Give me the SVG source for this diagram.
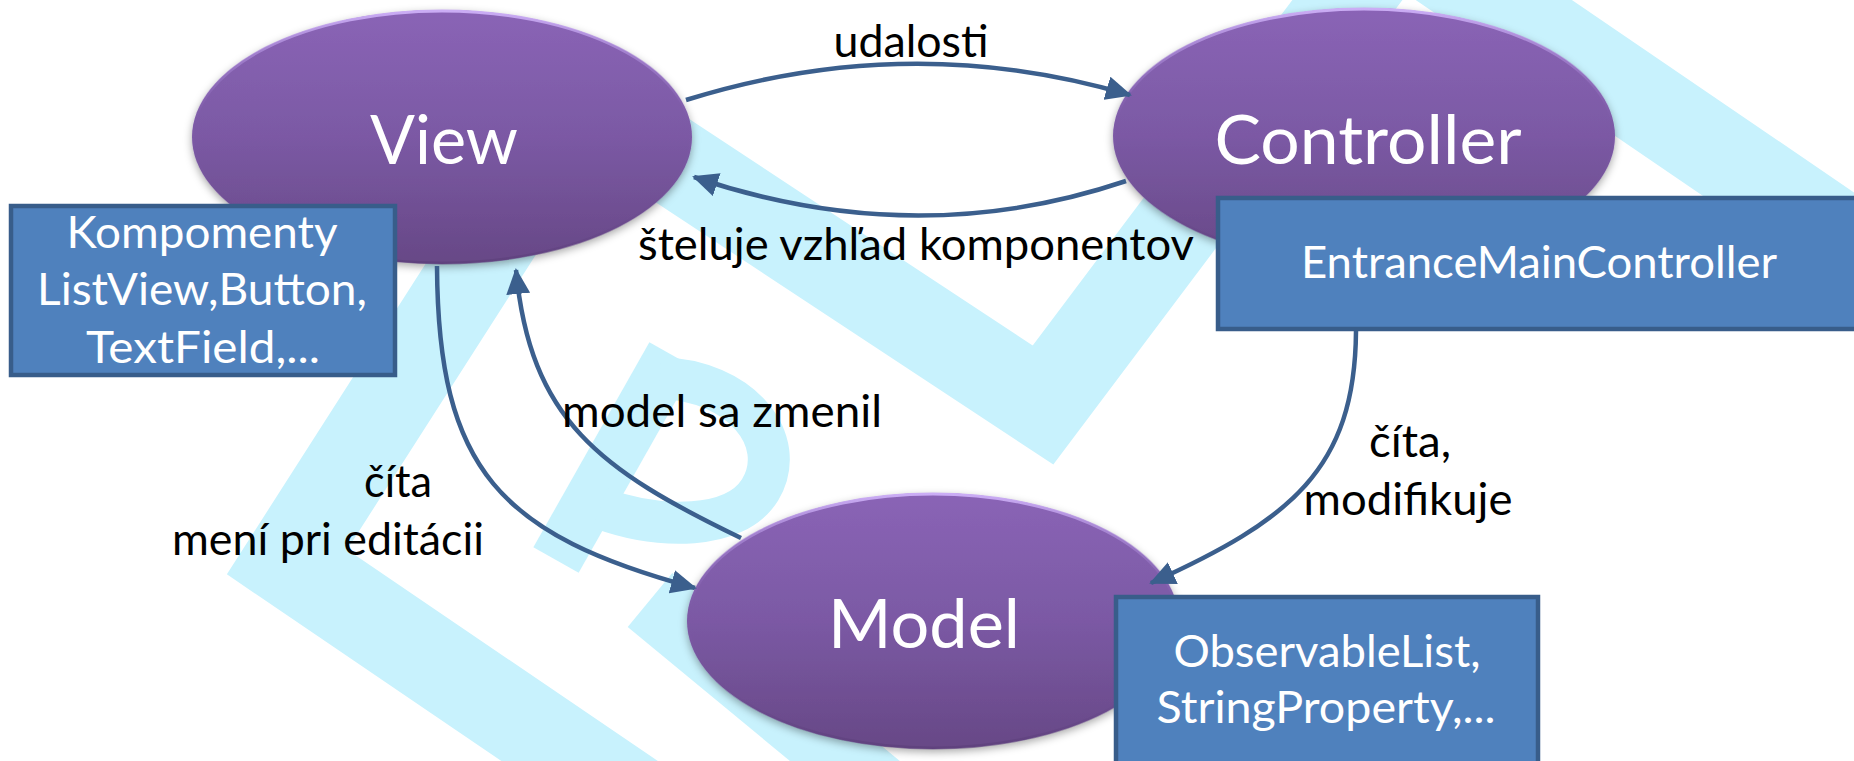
<svg xmlns="http://www.w3.org/2000/svg" width="1854" height="761" viewBox="0 0 1854 761">
  <defs>
    <linearGradient id="purple" x1="0" y1="0" x2="0" y2="1">
      <stop offset="0" stop-color="#8A64B6"/>
      <stop offset="0.5" stop-color="#7B59A4"/>
      <stop offset="1" stop-color="#674886"/>
    </linearGradient>
    <linearGradient id="rim" x1="0" y1="0" x2="0" y2="1">
      <stop offset="0" stop-color="#CBADF5" stop-opacity="1"/>
      <stop offset="0.25" stop-color="#A584D2" stop-opacity="0.5"/>
      <stop offset="0.45" stop-color="#8A64B6" stop-opacity="0"/>
      <stop offset="1" stop-color="#5A3D78" stop-opacity="0.6"/>
    </linearGradient>
    <filter id="shadow" x="-10%" y="-10%" width="120%" height="130%">
      <feDropShadow dx="0" dy="3" stdDeviation="4" flood-color="#000" flood-opacity="0.35"/>
    </filter>
    <marker id="arrow" viewBox="0 0 26 24" refX="24" refY="12" markerWidth="26" markerHeight="24" markerUnits="userSpaceOnUse" orient="auto">
      <path d="M0,0 L26,12 L0,24 z" fill="#3B5F8D"/>
    </marker>
    <style>
      .wm { fill: none; stroke: #C8F2FD; stroke-linejoin: miter; stroke-miterlimit: 10; }
      .ell { fill: url(#purple); filter: url(#shadow); }
      .rim { fill: none; stroke: url(#rim); stroke-width: 3; }
      .box { fill: #4F81BD; stroke: #385D8A; stroke-width: 4.5; }
      .big { font-family: Lato, "Open Sans", sans-serif; font-size: 67px; fill: #FFFFFF; text-anchor: middle; }
      .btxt { font-family: Lato, "Open Sans", sans-serif; font-size: 44px; fill: #FFFFFF; text-anchor: middle; }
      .lbl { font-family: Lato, "Open Sans", sans-serif; font-size: 44px; fill: #000000; text-anchor: middle; }
      .con { fill: none; stroke: #3B5F8D; stroke-width: 4.5; marker-end: url(#arrow); }
    </style>
  </defs>

  <rect x="0" y="0" width="1854" height="761" fill="#FFFFFF"/>

  <g id="watermark">
    <polyline class="wm" stroke-width="88" points="637,800 287,562 582,101 1043,405 1397,-66 1900,277"/>
    <line class="wm" stroke-width="52" x1="672" y1="355" x2="556" y2="560"/>
    <path class="wm" stroke-width="42" d="M660,378 C740,380 790,440 760,490 C735,530 660,530 600,508"/>
    <line class="wm" stroke-width="70" x1="650" y1="600" x2="880" y2="790"/>
  </g>

  <g id="node-view">
    <ellipse class="ell" cx="442" cy="137" rx="250" ry="127"/>
    <ellipse class="rim" cx="442" cy="137" rx="249" ry="126"/>
    <text class="big" x="444" y="164" textLength="148" lengthAdjust="spacingAndGlyphs">View</text>
  </g>

  <g id="node-controller">
    <ellipse class="ell" cx="1364" cy="136" rx="251" ry="128"/>
    <ellipse class="rim" cx="1364" cy="136" rx="250" ry="127"/>
    <text class="big" x="1368" y="164" textLength="307" lengthAdjust="spacingAndGlyphs">Controller</text>
  </g>

  <g id="node-model">
    <ellipse class="ell" cx="933" cy="621" rx="246" ry="128"/>
    <ellipse class="rim" cx="933" cy="621" rx="245" ry="127"/>
    <text class="big" x="924" y="648" textLength="192" lengthAdjust="spacingAndGlyphs">Model</text>
  </g>

  <g id="box-view-components">
    <rect class="box" x="11" y="206" width="384" height="169"/>
    <text class="btxt" x="202" y="248" textLength="271" lengthAdjust="spacingAndGlyphs">Kompomenty</text>
    <text class="btxt" x="202" y="305" textLength="330" lengthAdjust="spacingAndGlyphs">ListView,Button,</text>
    <text class="btxt" x="203" y="363" textLength="234" lengthAdjust="spacingAndGlyphs">TextField,...</text>
  </g>

  <g id="box-controller-class">
    <rect class="box" x="1218" y="198" width="645" height="131"/>
    <text class="btxt" x="1539" y="278" textLength="476" lengthAdjust="spacingAndGlyphs">EntranceMainController</text>
  </g>

  <g id="box-model-classes">
    <rect class="box" x="1116" y="597" width="422" height="175"/>
    <text class="btxt" x="1327" y="667" textLength="307" lengthAdjust="spacingAndGlyphs">ObservableList,</text>
    <text class="btxt" x="1326" y="723" textLength="339" lengthAdjust="spacingAndGlyphs">StringProperty,...</text>
  </g>

  <g id="connectors">
    <path class="con" d="M686,100 Q910,30 1130,95"/>
    <path class="con" d="M1126,181 Q915,252 694,177"/>
    <path class="con" d="M437,266 C438,470 500,535 695,588"/>
    <path class="con" d="M741,538 C600,470 530,420 516,270"/>
    <path class="con" d="M1356,331 C1355,470 1290,520 1151,583"/>
  </g>

  <g id="labels">
    <text class="lbl" x="911" y="57" textLength="155" lengthAdjust="spacingAndGlyphs">udalosti</text>
    <text class="lbl" x="916" y="260" textLength="556" lengthAdjust="spacingAndGlyphs">šteluje vzhľad komponentov</text>
    <text class="lbl" x="722" y="427" textLength="320" lengthAdjust="spacingAndGlyphs">model sa zmenil</text>
    <text class="lbl" x="398" y="497" textLength="68" lengthAdjust="spacingAndGlyphs">číta</text>
    <text class="lbl" x="328" y="555" textLength="312" lengthAdjust="spacingAndGlyphs">mení pri editácii</text>
    <text class="lbl" x="1410" y="457" textLength="82" lengthAdjust="spacingAndGlyphs">číta,</text>
    <text class="lbl" x="1408" y="515" textLength="209" lengthAdjust="spacingAndGlyphs">modifikuje</text>
  </g>
</svg>
